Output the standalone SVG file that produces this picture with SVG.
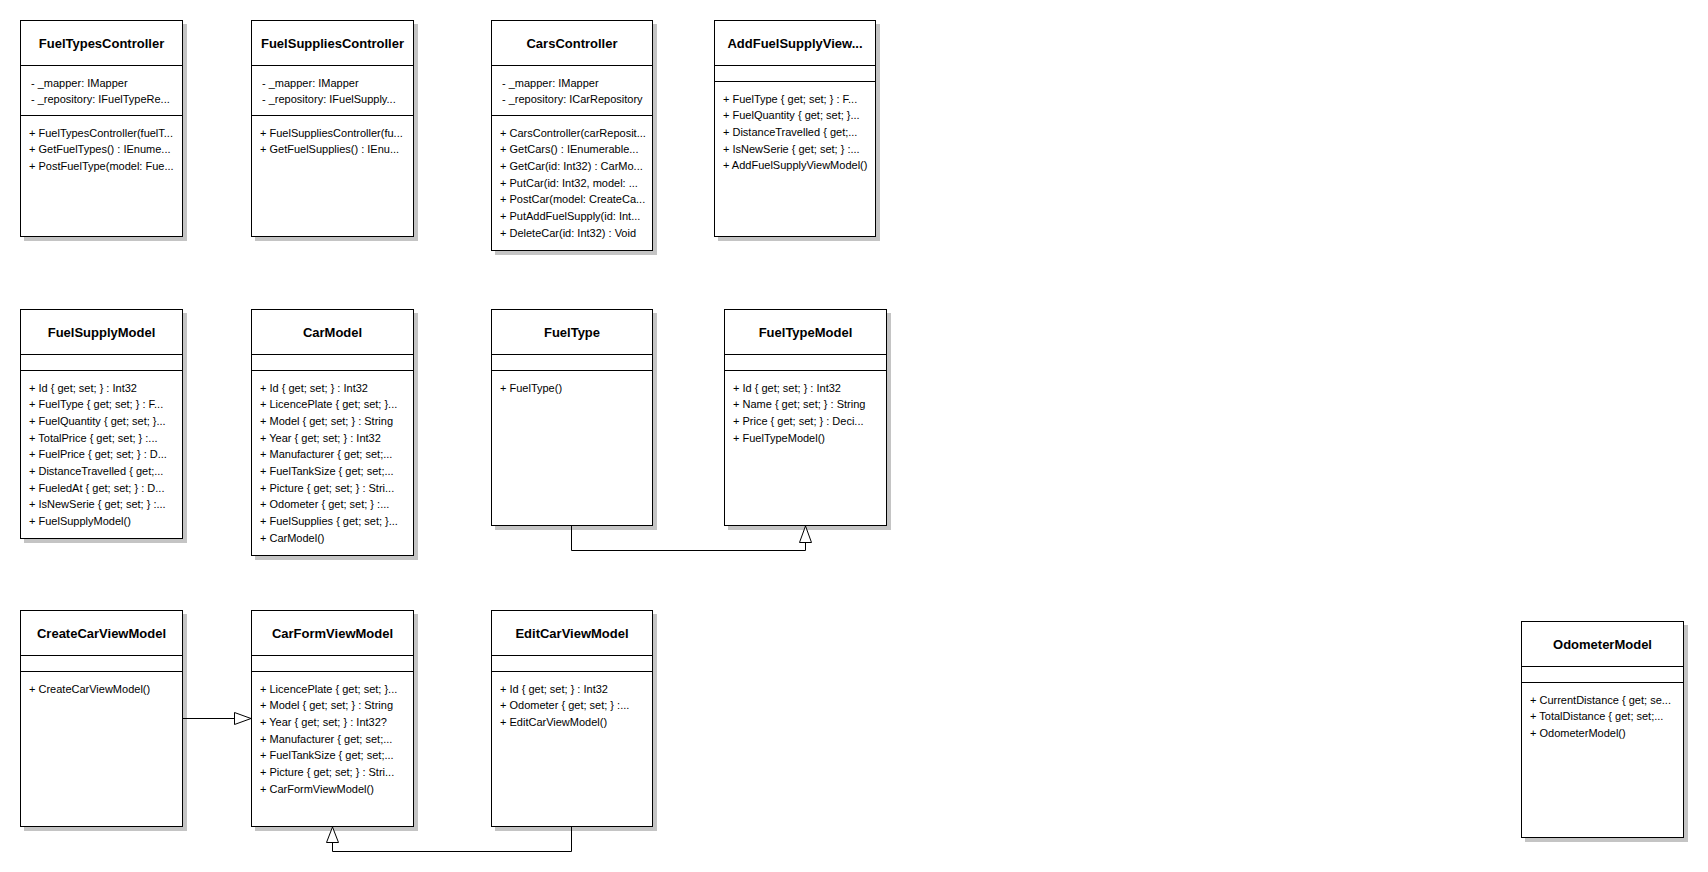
<svg xmlns="http://www.w3.org/2000/svg" width="1708" height="872" viewBox="0 0 1708 872">
  <style>
    .bg { fill: #ffffff; }
    .shadow { fill: #c4c4c4; stroke: none; }
    .box { fill: #ffffff; stroke: #000000; stroke-width: 1; }
    .div { stroke: #000000; stroke-width: 1; }
    .title { font-family: "Liberation Sans", Arial, sans-serif; font-size: 13px; font-weight: bold; text-anchor: middle; fill: #000000; }
    .m { font-family: "Liberation Sans", Arial, sans-serif; font-size: 11px; fill: #000000; }
    .edge { fill: none; stroke: #000000; stroke-width: 1; }
    .head { fill: #ffffff; stroke: #000000; stroke-width: 1; }
  </style>
  <rect class="bg" x="0" y="0" width="1708" height="872"/>

  <!-- Controllers -->
  <g id="FuelTypesController" transform="translate(20,20)">
    <rect class="shadow" x="4" y="4" width="163" height="217"/>
    <rect class="box" x="0.5" y="0.5" width="162" height="216"/>
    <line class="div" x1="0.5" y1="45.5" x2="162.5" y2="45.5"/>
    <line class="div" x1="0.5" y1="95.5" x2="162.5" y2="95.5"/>
    <text class="title" x="81.5" y="28">FuelTypesController</text>
    <text class="m" x="11" y="66.5">- _mapper: IMapper</text>
    <text class="m" x="11" y="83.2">- _repository: IFuelTypeRe...</text>
    <text class="m" x="9" y="116.5">+ FuelTypesController(fuelT...</text>
    <text class="m" x="9" y="133.2">+ GetFuelTypes() : IEnume...</text>
    <text class="m" x="9" y="149.8">+ PostFuelType(model: Fue...</text>
  </g>

  <g id="FuelSuppliesController" transform="translate(251,20)">
    <rect class="shadow" x="4" y="4" width="163" height="217"/>
    <rect class="box" x="0.5" y="0.5" width="162" height="216"/>
    <line class="div" x1="0.5" y1="45.5" x2="162.5" y2="45.5"/>
    <line class="div" x1="0.5" y1="95.5" x2="162.5" y2="95.5"/>
    <text class="title" x="81.5" y="28">FuelSuppliesController</text>
    <text class="m" x="11" y="66.5">- _mapper: IMapper</text>
    <text class="m" x="11" y="83.2">- _repository: IFuelSupply...</text>
    <text class="m" x="9" y="116.5">+ FuelSuppliesController(fu...</text>
    <text class="m" x="9" y="133.2">+ GetFuelSupplies() : IEnu...</text>
  </g>

  <g id="CarsController" transform="translate(491,20)">
    <rect class="shadow" x="4" y="4" width="162" height="231"/>
    <rect class="box" x="0.5" y="0.5" width="161" height="230"/>
    <line class="div" x1="0.5" y1="45.5" x2="161.5" y2="45.5"/>
    <line class="div" x1="0.5" y1="95.5" x2="161.5" y2="95.5"/>
    <text class="title" x="81" y="28">CarsController</text>
    <text class="m" x="11" y="66.5">- _mapper: IMapper</text>
    <text class="m" x="11" y="83.2">- _repository: ICarRepository</text>
    <text class="m" x="9" y="116.5">+ CarsController(carReposit...</text>
    <text class="m" x="9" y="133.2">+ GetCars() : IEnumerable...</text>
    <text class="m" x="9" y="149.8">+ GetCar(id: Int32) : CarMo...</text>
    <text class="m" x="9" y="166.5">+ PutCar(id: Int32, model: ...</text>
    <text class="m" x="9" y="183.2">+ PostCar(model: CreateCa...</text>
    <text class="m" x="9" y="199.8">+ PutAddFuelSupply(id: Int...</text>
    <text class="m" x="9" y="216.5">+ DeleteCar(id: Int32) : Void</text>
  </g>

  <g id="AddFuelSupplyViewModel" transform="translate(714,20)">
    <rect class="shadow" x="4" y="4" width="162" height="217"/>
    <rect class="box" x="0.5" y="0.5" width="161" height="216"/>
    <line class="div" x1="0.5" y1="45.5" x2="161.5" y2="45.5"/>
    <line class="div" x1="0.5" y1="61.5" x2="161.5" y2="61.5"/>
    <text class="title" x="81" y="28">AddFuelSupplyView...</text>
    <text class="m" x="9" y="82.5">+ FuelType { get; set; } : F...</text>
    <text class="m" x="9" y="99.2">+ FuelQuantity { get; set; }...</text>
    <text class="m" x="9" y="115.8">+ DistanceTravelled { get;...</text>
    <text class="m" x="9" y="132.5">+ IsNewSerie { get; set; } :...</text>
    <text class="m" x="9" y="149.2">+ AddFuelSupplyViewModel()</text>
  </g>

  <!-- Models -->
  <g id="FuelSupplyModel" transform="translate(20,309)">
    <rect class="shadow" x="4" y="4" width="163" height="230"/>
    <rect class="box" x="0.5" y="0.5" width="162" height="229"/>
    <line class="div" x1="0.5" y1="45.5" x2="162.5" y2="45.5"/>
    <line class="div" x1="0.5" y1="61.5" x2="162.5" y2="61.5"/>
    <text class="title" x="81.5" y="28">FuelSupplyModel</text>
    <text class="m" x="9" y="82.5">+ Id { get; set; } : Int32</text>
    <text class="m" x="9" y="99.2">+ FuelType { get; set; } : F...</text>
    <text class="m" x="9" y="115.8">+ FuelQuantity { get; set; }...</text>
    <text class="m" x="9" y="132.5">+ TotalPrice { get; set; } :...</text>
    <text class="m" x="9" y="149.2">+ FuelPrice { get; set; } : D...</text>
    <text class="m" x="9" y="165.8">+ DistanceTravelled { get;...</text>
    <text class="m" x="9" y="182.5">+ FueledAt { get; set; } : D...</text>
    <text class="m" x="9" y="199.2">+ IsNewSerie { get; set; } :...</text>
    <text class="m" x="9" y="215.8">+ FuelSupplyModel()</text>
  </g>

  <g id="CarModel" transform="translate(251,309)">
    <rect class="shadow" x="4" y="4" width="163" height="247"/>
    <rect class="box" x="0.5" y="0.5" width="162" height="246"/>
    <line class="div" x1="0.5" y1="45.5" x2="162.5" y2="45.5"/>
    <line class="div" x1="0.5" y1="61.5" x2="162.5" y2="61.5"/>
    <text class="title" x="81.5" y="28">CarModel</text>
    <text class="m" x="9" y="82.5">+ Id { get; set; } : Int32</text>
    <text class="m" x="9" y="99.2">+ LicencePlate { get; set; }...</text>
    <text class="m" x="9" y="115.8">+ Model { get; set; } : String</text>
    <text class="m" x="9" y="132.5">+ Year { get; set; } : Int32</text>
    <text class="m" x="9" y="149.2">+ Manufacturer { get; set;...</text>
    <text class="m" x="9" y="165.8">+ FuelTankSize { get; set;...</text>
    <text class="m" x="9" y="182.5">+ Picture { get; set; } : Stri...</text>
    <text class="m" x="9" y="199.2">+ Odometer { get; set; } :...</text>
    <text class="m" x="9" y="215.8">+ FuelSupplies { get; set; }...</text>
    <text class="m" x="9" y="232.5">+ CarModel()</text>
  </g>

  <g id="FuelType" transform="translate(491,309)">
    <rect class="shadow" x="4" y="4" width="162" height="217"/>
    <rect class="box" x="0.5" y="0.5" width="161" height="216"/>
    <line class="div" x1="0.5" y1="45.5" x2="161.5" y2="45.5"/>
    <line class="div" x1="0.5" y1="61.5" x2="161.5" y2="61.5"/>
    <text class="title" x="81" y="28">FuelType</text>
    <text class="m" x="9" y="82.5">+ FuelType()</text>
  </g>

  <g id="FuelTypeModel" transform="translate(724,309)">
    <rect class="shadow" x="4" y="4" width="163" height="217"/>
    <rect class="box" x="0.5" y="0.5" width="162" height="216"/>
    <line class="div" x1="0.5" y1="45.5" x2="162.5" y2="45.5"/>
    <line class="div" x1="0.5" y1="61.5" x2="162.5" y2="61.5"/>
    <text class="title" x="81.5" y="28">FuelTypeModel</text>
    <text class="m" x="9" y="82.5">+ Id { get; set; } : Int32</text>
    <text class="m" x="9" y="99.2">+ Name { get; set; } : String</text>
    <text class="m" x="9" y="115.8">+ Price { get; set; } : Deci...</text>
    <text class="m" x="9" y="132.5">+ FuelTypeModel()</text>
  </g>

  <!-- View models -->
  <g id="CreateCarViewModel" transform="translate(20,610)">
    <rect class="shadow" x="4" y="4" width="163" height="217"/>
    <rect class="box" x="0.5" y="0.5" width="162" height="216"/>
    <line class="div" x1="0.5" y1="45.5" x2="162.5" y2="45.5"/>
    <line class="div" x1="0.5" y1="61.5" x2="162.5" y2="61.5"/>
    <text class="title" x="81.5" y="28">CreateCarViewModel</text>
    <text class="m" x="9" y="82.5">+ CreateCarViewModel()</text>
  </g>

  <g id="CarFormViewModel" transform="translate(251,610)">
    <rect class="shadow" x="4" y="4" width="163" height="217"/>
    <rect class="box" x="0.5" y="0.5" width="162" height="216"/>
    <line class="div" x1="0.5" y1="45.5" x2="162.5" y2="45.5"/>
    <line class="div" x1="0.5" y1="61.5" x2="162.5" y2="61.5"/>
    <text class="title" x="81.5" y="28">CarFormViewModel</text>
    <text class="m" x="9" y="82.5">+ LicencePlate { get; set; }...</text>
    <text class="m" x="9" y="99.2">+ Model { get; set; } : String</text>
    <text class="m" x="9" y="115.8">+ Year { get; set; } : Int32?</text>
    <text class="m" x="9" y="132.5">+ Manufacturer { get; set;...</text>
    <text class="m" x="9" y="149.2">+ FuelTankSize { get; set;...</text>
    <text class="m" x="9" y="165.8">+ Picture { get; set; } : Stri...</text>
    <text class="m" x="9" y="182.5">+ CarFormViewModel()</text>
  </g>

  <g id="EditCarViewModel" transform="translate(491,610)">
    <rect class="shadow" x="4" y="4" width="162" height="217"/>
    <rect class="box" x="0.5" y="0.5" width="161" height="216"/>
    <line class="div" x1="0.5" y1="45.5" x2="161.5" y2="45.5"/>
    <line class="div" x1="0.5" y1="61.5" x2="161.5" y2="61.5"/>
    <text class="title" x="81" y="28">EditCarViewModel</text>
    <text class="m" x="9" y="82.5">+ Id { get; set; } : Int32</text>
    <text class="m" x="9" y="99.2">+ Odometer { get; set; } :...</text>
    <text class="m" x="9" y="115.8">+ EditCarViewModel()</text>
  </g>

  <g id="OdometerModel" transform="translate(1521,621)">
    <rect class="shadow" x="4" y="4" width="163" height="217"/>
    <rect class="box" x="0.5" y="0.5" width="162" height="216"/>
    <line class="div" x1="0.5" y1="45.5" x2="162.5" y2="45.5"/>
    <line class="div" x1="0.5" y1="61.5" x2="162.5" y2="61.5"/>
    <text class="title" x="81.5" y="28">OdometerModel</text>
    <text class="m" x="9" y="82.5">+ CurrentDistance { get; se...</text>
    <text class="m" x="9" y="99.2">+ TotalDistance { get; set;...</text>
    <text class="m" x="9" y="115.8">+ OdometerModel()</text>
  </g>

  <!-- Generalization connectors (hollow triangle at the parent) -->
  <g id="connectors">
    <path class="edge" d="M571.5 526 V550.5 H805.5 V542.5"/>
    <polygon class="head" points="805.5,526 799.5,542.5 811.5,542.5"/>

    <path class="edge" d="M183 718.5 H234.5"/>
    <polygon class="head" points="251,718.5 234.5,712.5 234.5,724.5"/>

    <path class="edge" d="M571.5 827 V851.5 H332.5 V842.5"/>
    <polygon class="head" points="332.5,827 326.5,842.5 338.5,842.5"/>
  </g>
</svg>
